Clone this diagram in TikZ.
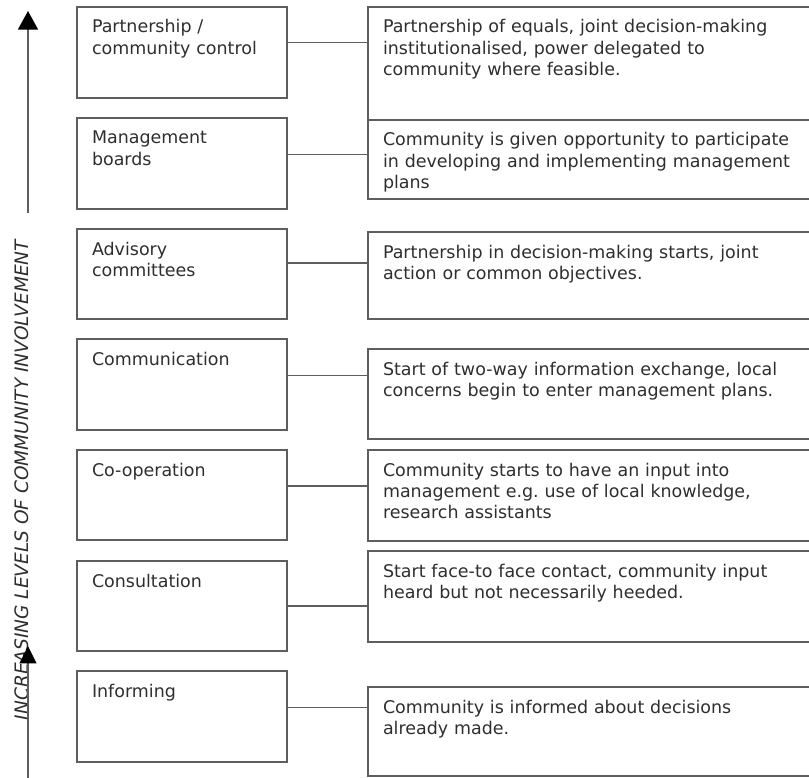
\documentclass[tikz,border=0pt]{standalone}
\usepackage{fontspec}
\setmainfont{DejaVu Sans}
\usetikzlibrary{arrows.meta}
\definecolor{edge}{HTML}{5E5E5E}
\definecolor{ink}{HTML}{2E2E2E}
\frenchspacing
\tikzset{
  box/.style={draw=edge, line width=1.1pt, rectangle, inner sep=0pt, outer sep=0pt, anchor=north west},
  txt/.style={text=ink, inner sep=0pt, outer sep=0pt, anchor=base west, align=left, text width=440pt,
    font=\fontsize{13.1pt}{16.1pt}\selectfont\frenchspacing},
  link/.style={draw=edge, line width=1.1pt},
  axis/.style={draw=edge, line width=1.3pt},
}
\newcommand\pxbox[5]{\node[box, minimum width={#4*0.75pt}, minimum height={#5*0.75pt}] (#1) at (#2,#3) {};}
\begin{document}
\begin{tikzpicture}[x=0.75pt, y=-0.75pt]
\useasboundingbox (0,0) rectangle (809,777);
\clip (0,0) rectangle (809,777);
% left boxes
\pxbox{L1}{77}{7}{210}{91}
\pxbox{L2}{77}{118}{210}{91}
\pxbox{L3}{77}{229}{210}{90}
\pxbox{L4}{77}{339}{210}{91}
\pxbox{L5}{77}{450}{210}{90}
\pxbox{L6}{77}{561}{210}{90}
\pxbox{L7}{77}{671}{210}{91}
% right boxes
\pxbox{R1}{368}{7}{450}{113}
\pxbox{R2}{368}{120}{450}{79}
\pxbox{R3}{368}{232}{450}{87}
\pxbox{R4}{368}{349}{450}{90}
\pxbox{R5}{368}{450}{450}{91}
\pxbox{R6}{368}{551}{450}{91}
\pxbox{R7}{368}{687}{450}{89}
% left texts
\node[txt] (tL1) at ([xshift=11.25pt, yshift=-19.5pt]L1.north west) {Partnership /\\community control};
\node[txt] (tL2) at ([xshift=11.25pt, yshift=-19.5pt]L2.north west) {Management\\boards};
\node[txt] (tL3) at ([xshift=11.25pt, yshift=-19.5pt]L3.north west) {Advisory\\committees};
\node[txt] (tL4) at ([xshift=11.25pt, yshift=-19.5pt]L4.north west) {Communication};
\node[txt] (tL5) at ([xshift=11.25pt, yshift=-19.5pt]L5.north west) {Co-operation};
\node[txt] (tL6) at ([xshift=11.25pt, yshift=-19.5pt]L6.north west) {Consultation};
\node[txt] (tL7) at ([xshift=11.25pt, yshift=-19.5pt]L7.north west) {Informing};
% right texts
\node[txt] (tR1) at ([xshift=11.25pt, yshift=-19.5pt]R1.north west) {Partnership of equals, joint decision-making\\institutionalised, power delegated to\\community where feasible.};
\node[txt] (tR2) at ([xshift=11.25pt, yshift=-19.5pt]R2.north west) {Community is given opportunity to participate\\in developing and implementing management\\plans};
\node[txt] (tR3) at ([xshift=11.25pt, yshift=-19.5pt]R3.north west) {Partnership in decision-making starts, joint\\action or common objectives.};
\node[txt] (tR4) at ([xshift=11.25pt, yshift=-19.5pt]R4.north west) {Start of two-way information exchange, local\\concerns begin to enter management plans.};
\node[txt] (tR5) at ([xshift=11.25pt, yshift=-19.5pt]R5.north west) {Community starts to have an input into\\management e.g. use of local knowledge,\\research assistants};
\node[txt] (tR6) at ([xshift=11.25pt, yshift=-19.5pt]R6.north west) {Start face-to face contact, community input\\heard but not necessarily heeded.};
\node[txt] (tR7) at ([xshift=11.25pt, yshift=-19.5pt]R7.north west) {Community is informed about decisions\\already made.};
% connectors
\draw[link] ([yshift=7.5pt]L1.east) -- ([yshift=7.5pt]L1.east -| R1.west);
\draw[link] ([yshift=6.75pt]L2.east) -- ([yshift=6.75pt]L2.east -| R2.west);
\draw[link] ([yshift=8.25pt]L3.east) -- ([yshift=8.25pt]L3.east -| R3.west);
\draw[link] ([yshift=6.75pt]L4.east) -- ([yshift=6.75pt]L4.east -| R4.west);
\draw[link] ([yshift=6.75pt]L5.east) -- ([yshift=6.75pt]L5.east -| R5.west);
\draw[link] (L6.east) -- (L6.east -| R6.west);
\draw[link] ([yshift=6.75pt]L7.east) -- ([yshift=6.75pt]L7.east -| R7.west);
% axis label
\node[rotate=90, anchor=base, inner sep=0pt, text=ink, font=\fontsize{13.9pt}{16pt}\selectfont\itshape] (lab) at (28,480) {INCREASING LEVELS OF COMMUNITY INVOLVEMENT};
% arrows
\coordinate (a1s) at (28,213);
\coordinate (a1e) at (28,11);
\coordinate (a2s) at (28,790);
\coordinate (a2e) at (28,646);
\draw[axis, -{Triangle[width=15pt,length=14pt,black]}] (a1s) -- (a1e);
\draw[axis, -{Triangle[width=12.5pt,length=13pt,black]}] (a2s) -- (a2e);
\end{tikzpicture}
\end{document}
